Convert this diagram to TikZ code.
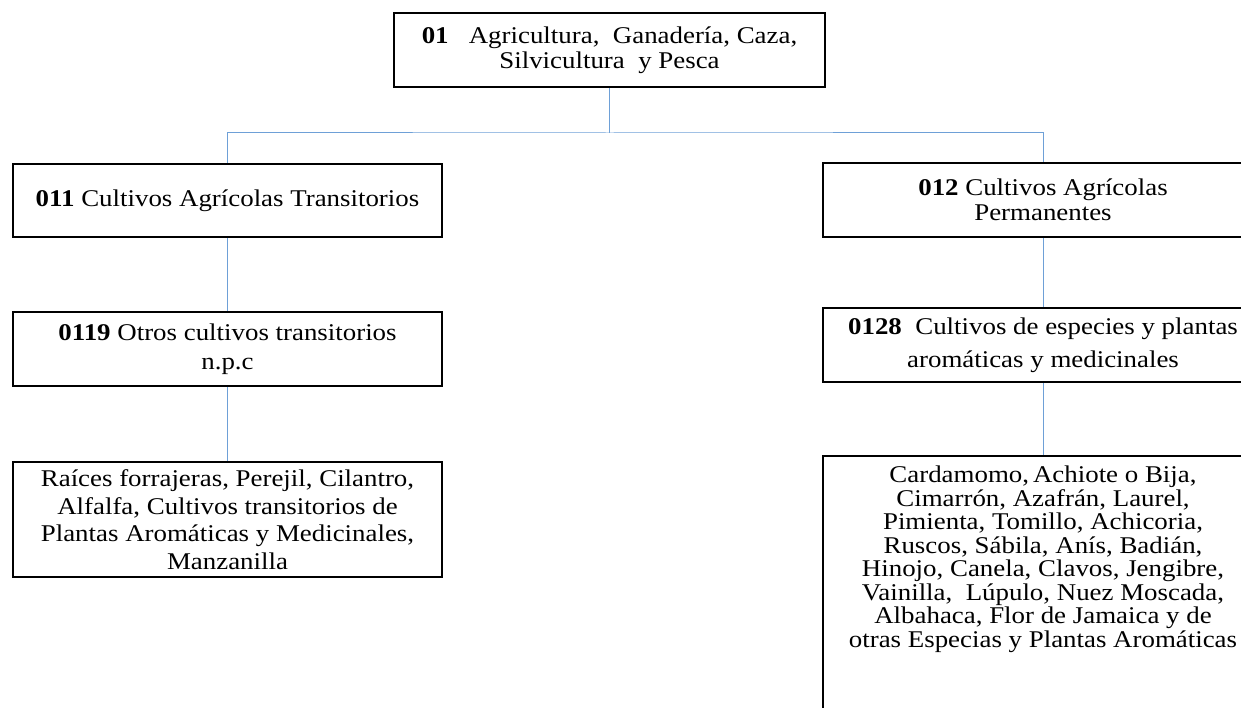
\documentclass[tikz,border=0pt]{standalone}
\usepackage{fontspec}
\setmainfont[FakeStretch=1.12]{Liberation Serif}
\definecolor{linkblue}{RGB}{110,160,215}
\newcommand{\boxfont}[1]{\fontsize{24}{#1}\selectfont\lineskiplimit=-60pt\relax}
\tikzset{
  box/.style={draw=black, line width=1.6pt, inner sep=0pt, align=center,
    font=\boxfont{25}},
  txt/.style={inner sep=0pt, align=center},
  link/.style={draw=linkblue, line width=1pt}
}
\begin{document}
\begin{tikzpicture}[x=1pt,y=-1pt]
  \useasboundingbox (0,0) rectangle (1241,708);
  \clip (0,0) rectangle (1241,708);

  % root
  \node[box, minimum width=431pt, minimum height=74pt] (root) at (609.5,50)
    {\textbf{01}\ \ \ Agricultura,\ \ Ganadería, Caza,\\Silvicultura\ \ y Pesca};

  % left branch
  \node[box, minimum width=429pt, minimum height=73pt] (l1) at (227.5,200.5)
    {\textbf{011} Cultivos Agrícolas Transitorios};
  \node[box, minimum width=429pt, minimum height=74pt, font=\boxfont{29}] (l2) at (227.5,349)
    {\textbf{0119} Otros cultivos transitorios\\n.p.c};
  \node[box, minimum width=429pt, minimum height=115pt, font=\boxfont{27.5}] (l3) at (227.5,519.5)
    {Raíces forrajeras, Perejil, Cilantro,\\Alfalfa,\ Cultivos transitorios de\\Plantas Aromáticas y Medicinales,\\Manzanilla};

  % right branch
  \node[box, minimum width=440pt, minimum height=74pt] (r1) at (1043,200)
    {\textbf{012} Cultivos Agrícolas\\Permanentes};
  \node[box, minimum width=440pt, minimum height=74pt, font=\boxfont{33}] (r2) at (1043,345)
    {\textbf{0128}\ \ Cultivos de especies y plantas\\aromáticas y medicinales};
  \node[box, minimum width=440pt, minimum height=300pt, anchor=north] (r3) at (1043,455) {};
  \node[txt, anchor=north, font=\boxfont{23.5}] (r3t) at ([yshift=-11pt]r3.north)
    {Cardamomo,\,Achiote o Bija,\\Cimarrón, Azafrán, Laurel,\\Pimienta, Tomillo,\ Achicoria,\\Ruscos, Sábila, Anís, Badián,\\Hinojo, Canela, Clavos, Jengibre,\\Vainilla,\ \ Lúpulo, Nuez Moscada,\\Albahaca, Flor de Jamaica y de\\otras Especias y Plantas Aromáticas};

  % connectors
  \coordinate (bus) at (609.5,133);
  \draw[link] (root.south) -- (bus);
  \draw[link] (l1.north) |- (bus) -| (r1.north);
  \draw[link] (l1.south) -- (l2.north);
  \draw[link] (l2.south) -- (l3.north);
  \draw[link] (r1.south) -- (r2.north);
  \draw[link] (r2.south) -- (r3.north);
\end{tikzpicture}
\end{document}
